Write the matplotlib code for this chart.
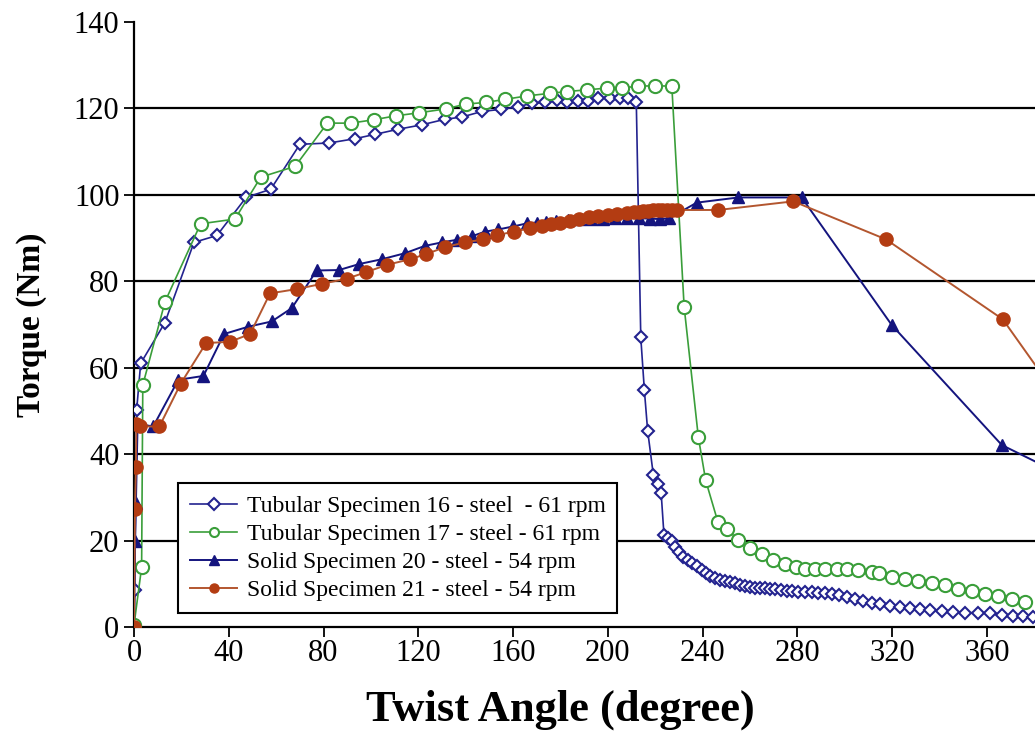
import matplotlib

matplotlib.use('Agg')

import matplotlib.pyplot as plt

# Tubular Specimen 16 - steel - 61 rpm
tub16_angle = [0, 0.3, 1.1, 2.8, 13, 25.3, 35, 47.3, 57.7, 70, 82.3, 93.3, 101.7,
               111.6, 121.4, 131.3, 138.3, 146.8, 155, 162.2, 167.9, 173.5, 178.4,
               182.6, 187.5, 191.8, 196, 201, 205, 208.7, 212,
               213.9, 215.4, 216.8, 219.2, 221.3, 222.5, 223.7,
               225.5, 227, 228.4, 230.1, 231.9, 234, 235.7, 237.5, 239.6, 241.3,
               243.1, 245.3, 247.4, 249.5, 251.6, 253.7, 255.8, 257.9, 260, 262.1,
               264.2, 266.4, 268.5, 270.6, 273.1, 275.5, 277.9, 280.4, 283.2, 286.1,
               288.9, 291.7, 294.5, 297.6, 300.8, 304.3, 307.9, 311.4, 314.9, 319.1,
               323.3, 327.6, 331.8, 336, 340.9, 345.8, 350.8, 356.4, 361.3, 366.3,
               371.2, 375.4, 379.6]
tub16_torque = [0, 8.6, 50.2, 61, 70.4, 89, 90.6, 99.4, 101.3, 111.7, 112, 113, 114,
                115.2, 116.2, 117.5, 118, 119.3, 119.8, 120.4, 121.2, 121.4, 122,
                121.6, 121.8, 121.8, 122.4, 122.4, 122.4, 122.4, 121.6,
                67, 54.9, 45.4, 35.2, 33, 31, 21.2,
                20.5, 19.8, 18.6, 17.4, 16.3, 15.5, 14.7, 14, 13.2, 12.6,
                11.8, 11.3, 10.9, 10.6, 10.3, 10.1, 9.7, 9.5, 9.3, 9.1,
                9, 9, 8.7, 8.7, 8.6, 8.4, 8.4, 8.2, 8.2, 8.2,
                7.9, 7.8, 7.6, 7.3, 7, 6.4, 6, 5.6, 5.2, 4.9,
                4.7, 4.3, 4.1, 3.9, 3.7, 3.5, 3.3, 3.3, 3.2, 2.8,
                2.5, 2.5, 2.2]

# Tubular Specimen 17 - steel - 61 rpm
tub17_angle = [0, 3.2, 3.7, 13.1, 28.1, 42.6, 53.5, 68, 81.6, 91.5, 101.4, 110.6,
               120.4, 131.6, 140, 148.5, 156.6, 165.8, 175.6, 182.6, 191, 199.5,
               205.9, 212.9, 219.9, 227,
               232.2, 238.2, 241.3, 246.4, 250.2, 255.1, 260, 265, 269.5, 274.6,
               279.3, 283.2, 287.5, 291.7, 296.6, 301, 305.5, 311.4, 314.4, 319.8,
               325.5, 331.1, 336.7, 342.3, 348, 353.6, 359.2, 364.8, 370.5, 376.1]
tub17_torque = [0.5, 13.8, 56, 75.3, 93.3, 94.4, 104.1, 106.6, 116.6, 116.6, 117.4,
                118.3, 119, 119.9, 121, 121.4, 122.1, 122.9, 123.5, 123.9, 124.3,
                124.7, 124.7, 125.2, 125.2, 125.2,
                74.1, 43.9, 33.9, 24.4, 22.7, 20.1, 18.2, 16.9, 15.5, 14.6,
                13.8, 13.4, 13.4, 13.4, 13.4, 13.3, 13.2, 12.7, 12.4, 11.6,
                11, 10.6, 10.2, 9.8, 8.9, 8.3, 7.7, 7.2, 6.5, 5.7]

# Solid Specimen 20 - steel - 54 rpm
sol20_angle = [0, 0.4, 0.8, 1.5, 8.1, 18.7, 29.3, 38, 48.3, 58.1, 66.6, 77.1, 86.5,
               95.1, 104.6, 114.4, 122.8, 129.9, 136.2, 142.5, 148.2, 153.8, 160.1,
               165.8, 170, 174, 178, 183, 188, 193, 198, 203, 208, 213, 218, 222,
               226, 237.5, 255.1, 281.8, 319.8, 366.3, 400]
sol20_torque = [0, 20, 28.7, 47, 46.4, 57.2, 58.1, 67.8, 69.5, 70.7, 73.8, 82.5,
                82.6, 84, 85.1, 86.5, 88.2, 89, 89.6, 90.4, 91.5, 92, 92.7,
                93.4, 93.6, 93.8, 94, 94.2, 94.3, 94.4, 94.5, 94.6, 94.7, 94.6, 94.5, 94.4,
                94.6, 98.2, 99.4, 99.4, 69.9, 42.1, 33]

# Solid Specimen 21 - steel - 54 rpm
sol21_angle = [0, 0.4, 0.8, 1, 2.5, 10.7, 19.7, 30.4, 40.5, 49, 57.4, 68.7, 79.2,
               89.8, 97.9, 106.7, 116.5, 123.3, 131.3, 139.7, 147.5, 153.4, 160.4,
               167.2, 172, 176, 180, 184, 188, 192, 196, 200, 204, 208, 211, 213,
               215, 217, 219, 221, 223, 225, 227, 229.1, 246.6, 278.3, 317.4, 366.7,
               400]
sol21_torque = [0, 27.2, 37.1, 47, 46.4, 46.4, 56.3, 65.7, 66, 67.8, 77.2, 78.2, 79.4,
                80.6, 82.1, 83.8, 85.1, 86.3, 87.9, 89, 89.7, 90.7, 91.5,
                92.3, 92.8, 93.2, 93.6, 94, 94.4, 94.8, 95.1, 95.4, 95.6, 95.8, 96, 96.1,
                96.2, 96.3, 96.4, 96.4, 96.5, 96.5, 96.5, 96.5, 96.5, 98.5, 89.7, 71.2,
                45.5]

labels = ["Tubular Specimen 16 - steel  - 61 rpm",
          "Tubular Specimen 17 - steel - 61 rpm",
          "Solid Specimen 20 - steel - 54 rpm",
          "Solid Specimen 21 - steel - 54 rpm"]

plt.rcParams['font.family'] = ['Liberation Serif', 'DejaVu Serif']

fig = plt.figure(figsize=(10.35, 7.44), dpi=100)
ax = fig.add_axes([0.1295, 0.1573, 0.8705, 0.8131])

for y in [20, 40, 60, 80, 100, 120]:
    ax.axhline(y, color='black', lw=1.6, zorder=1)

ax.plot(tub16_angle, tub16_torque, color='#23238f', lw=1.2, marker='D', ms=6.5,
        mfc='white', mec='#23238f', mew=1.5, label=labels[0], zorder=3)
ax.plot(tub17_angle, tub17_torque, color='#3a9e3a', lw=1.2, marker='o', ms=9.5,
        mfc='white', mec='#3a9e3a', mew=1.5, label=labels[1], zorder=3)
ax.plot(sol20_angle, sol20_torque, color='#14147e', lw=1.4, marker='^', ms=9,
        mfc='#14147e', mec='#14147e', label=labels[2], zorder=4)
ax.plot(sol21_angle, sol21_torque, color='#b3562f', lw=1.4, marker='o', ms=9.5,
        mfc='#b33c12', mec='#b33c12', label=labels[3], zorder=4)

ax.set_xlim(0, 380.3)
ax.set_ylim(0, 140)
ax.set_xticks(range(0, 361, 40))
ax.set_yticks(range(0, 141, 20))
ax.tick_params(axis='both', labelsize=22, direction='out', length=7, width=1.3,
               colors='black')
ax.tick_params(axis='x', pad=2)
ax.spines['top'].set_visible(False)
ax.spines['right'].set_visible(False)
ax.spines['left'].set_linewidth(1.6)
ax.spines['bottom'].set_linewidth(1.6)

ax.set_xlabel("Twist Angle (degree)", fontsize=32, fontweight='bold')
ax.xaxis.set_label_coords(0.473, -0.104)
ax.set_ylabel("Torque (Nm)", fontsize=24, fontweight='bold')
ax.yaxis.set_label_coords(-0.097, 0.5)

leg = ax.legend(loc='lower left', bbox_to_anchor=(0.049, 0.023), fontsize=17,
                frameon=True, fancybox=False, edgecolor='black', framealpha=1,
                handlelength=2.0, labelspacing=0.28, borderpad=0.5,
                handletextpad=0.4, borderaxespad=0)
leg.get_frame().set_linewidth(1.5)
for h in leg.get_lines():
    h.set_markersize(6.5)

fig.savefig("out.png", dpi=100)
